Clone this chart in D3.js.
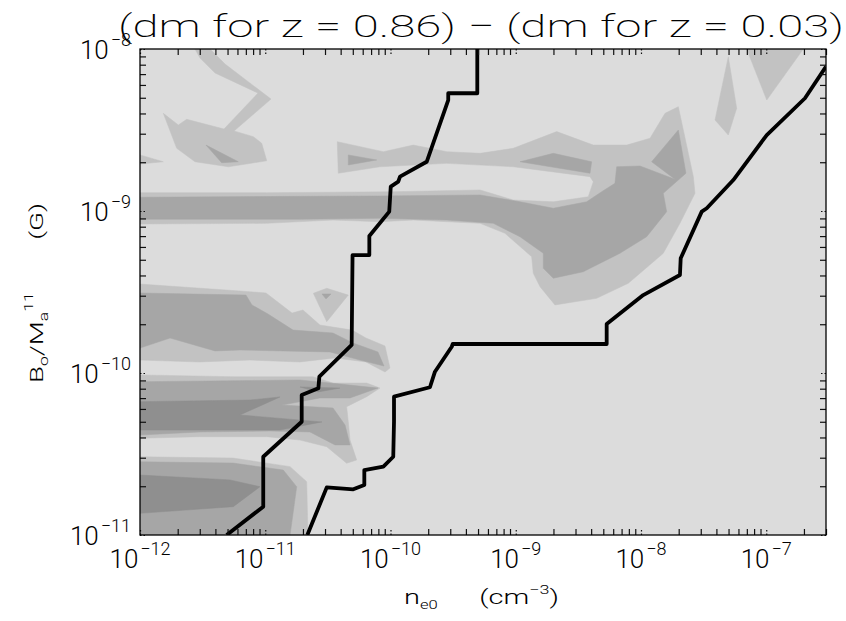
<!DOCTYPE html>
<html><head><meta charset="utf-8">
<script src="https://cdn.jsdelivr.net/npm/d3@7"></script>
<style>
body{margin:0;background:#fff;}
svg text{font-family:Roboto,'DejaVu Sans',sans-serif;font-weight:300;fill:#000;}
</style></head><body>
<svg id="c" width="846" height="621"></svg>
<script>
// ---------- data (log10 n_e0 , log10 B) ----------
const xDomain=[1e-12,3e-7];
const yDomain=[1e-11,1e-8];
const xTickExps=[-12,-11,-10,-9,-8,-7];
const yTickExps=[-11,-10,-9,-8];
const titleText="(dm for z = 0.86) \u2212 (dm for z = 0.03)";
const levelColors=["#dcdcdc","#c2c2c2","#a6a6a6","#8f8f8f"];

const blobTopLeft=[[-11.561,-8],[-11.441,-8],[-11.321,-8.093],[-10.954,-8.309],[-11.249,-8.506],[-11.095,-8.541],[-11.028,-8.582],[-10.988,-8.690],[-11.295,-8.727],[-11.561,-8.696],[-11.707,-8.613],[-11.814,-8.397],[-11.694,-8.469],[-11.627,-8.434],[-11.329,-8.494],[-11.058,-8.272],[-11.401,-8.148],[-11.521,-8.056]];
const triTopLeft=[[-11.473,-8.593],[-11.215,-8.696],[-11.348,-8.702]];
const wedgeLeftEdge=[[-12,-8.654],[-11.814,-8.696],[-12,-8.710]];
const bandNineOuter=[[-10.425,-8.572],[-10.057,-8.634],[-9.818,-8.593],[-9.549,-8.634],[-9.285,-8.644],[-9.020,-8.613],[-8.673,-8.510],[-8.381,-8.593],[-8.114,-8.593],[-7.928,-8.551],[-7.808,-8.397],[-7.702,-8.356],[-7.582,-8.788],[-7.569,-8.891],[-7.689,-9.076],[-7.822,-9.261],[-8.101,-9.446],[-8.354,-9.539],[-8.687,-9.580],[-8.806,-9.467],[-8.860,-9.385],[-8.873,-9.282],[-9.086,-9.138],[-9.285,-9.076],[-9.551,-9.066],[-9.818,-9.056],[-10.084,-9.066],[-10.459,-9.056],[-10.988,-9.076],[-12,-9.080],[-12,-8.887],[-10.988,-8.887],[-9.980,-8.881],[-9.285,-8.870],[-9.020,-8.932],[-8.700,-8.943],[-8.421,-8.912],[-8.381,-8.819],[-8.407,-8.788],[-9.020,-8.727],[-9.551,-8.706],[-10.084,-8.727],[-10.417,-8.767]];
const bandNineInner=[[-12,-8.915],[-10.084,-8.907],[-9.285,-8.901],[-8.966,-8.943],[-8.700,-8.983],[-8.434,-8.943],[-8.314,-8.881],[-8.208,-8.829],[-8.194,-8.727],[-8.008,-8.722],[-7.729,-8.804],[-7.915,-8.696],[-7.702,-8.500],[-7.641,-8.767],[-7.822,-8.891],[-7.795,-9.004],[-7.955,-9.159],[-8.168,-9.261],[-8.461,-9.375],[-8.700,-9.415],[-8.780,-9.354],[-8.780,-9.261],[-8.966,-9.159],[-9.179,-9.076],[-9.551,-9.056],[-10.084,-9.045],[-10.723,-9.051],[-12,-9.051]];
const stripUpper=[[-8.966,-8.696],[-8.700,-8.644],[-8.394,-8.696],[-8.407,-8.767]];
const wedgeTipUpper=[[-10.337,-8.654],[-10.110,-8.685],[-10.337,-8.716]];
const spikeTopRight=[[-7.303,-8.048],[-7.236,-8.366],[-7.303,-8.531],[-7.409,-8.438]];
const vTopRight=[[-7.156,-8],[-6.704,-8],[-6.996,-8.315]];
const bandUpperOuter=[[-12,-9.451],[-11.202,-9.494],[-10.994,-9.506],[-10.786,-9.630],[-10.699,-9.611],[-10.563,-9.704],[-10.307,-9.735],[-10.196,-9.784],[-10.044,-9.833],[-10.004,-9.969],[-10.044,-9.994],[-10.196,-9.932],[-10.443,-9.907],[-10.723,-9.932],[-11.122,-9.920],[-11.521,-9.932],[-12,-9.920]];
const bandUpperInner=[[-12,-9.506],[-11.154,-9.519],[-11.106,-9.580],[-10.978,-9.636],[-10.778,-9.735],[-10.459,-9.753],[-10.299,-9.815],[-10.100,-9.870],[-10.052,-9.957],[-10.244,-9.920],[-10.483,-9.870],[-10.858,-9.864],[-11.202,-9.858],[-11.401,-9.864],[-11.760,-9.784],[-12,-9.846]];
const diamond=[[-10.616,-9.508],[-10.509,-9.477],[-10.337,-9.519],[-10.509,-9.683]];
const diamondDot=[[-10.547,-9.512],[-10.475,-9.512],[-10.515,-9.543]];
const bandMiddleOuter=[[-12,-10.012],[-11.257,-10.023],[-10.619,-10.023],[-10.459,-10.062],[-10.190,-10.062],[-10.084,-10.093],[-10.190,-10.146],[-10.350,-10.208],[-10.337,-10.301],[-10.323,-10.414],[-10.270,-10.537],[-10.350,-10.557],[-10.509,-10.455],[-10.723,-10.414],[-10.988,-10.393],[-11.521,-10.393],[-12,-10.403]];
const bandMiddleInner=[[-12,-10.054],[-10.723,-10.043],[-10.403,-10.068],[-10.100,-10.093],[-10.323,-10.154],[-10.563,-10.154],[-10.866,-10.198],[-10.459,-10.216],[-10.363,-10.321],[-10.323,-10.444],[-10.443,-10.444],[-10.643,-10.364],[-10.962,-10.358],[-11.521,-10.364],[-12,-10.383]];
const bandMiddleCore=[[-12,-10.177],[-11.122,-10.167],[-10.882,-10.148],[-11.202,-10.259],[-10.547,-10.302],[-10.882,-10.352],[-12,-10.352]];
const streakMiddle=[[-10.723,-10.086],[-10.403,-10.093],[-10.579,-10.117]];
const bandLowerOuter=[[-12,-10.517],[-11.257,-10.525],[-10.802,-10.578],[-10.669,-10.671],[-10.659,-11],[-12,-11]];
const bandLowerInner=[[-12,-10.548],[-11.257,-10.556],[-10.856,-10.599],[-10.749,-10.702],[-10.802,-11],[-12,-11]];
const bandLowerCore=[[-12,-10.630],[-11.281,-10.660],[-11.042,-10.702],[-11.255,-10.825],[-12,-10.866]];

// contour level of each region (painted in this order)
const regions=[
  [1,blobTopLeft],[1,wedgeLeftEdge],[1,bandNineOuter],[1,spikeTopRight],[1,vTopRight],
  [1,bandUpperOuter],[1,diamond],[1,bandMiddleOuter],[1,bandLowerOuter],
  [2,triTopLeft],[2,bandNineInner],[2,stripUpper],[2,wedgeTipUpper],[2,bandUpperInner],
  [2,diamondDot],[2,bandMiddleInner],[2,bandLowerInner],
  [3,bandMiddleCore],[3,streakMiddle],[3,bandLowerCore]
];

const boundaryLeft=[[-11.308,-11],[-11.016,-10.825],[-11.016,-10.517],[-10.709,-10.301],[-10.709,-10.136],[-10.576,-10.094],[-10.568,-10.023],[-10.310,-9.827],[-10.303,-9.272],[-10.169,-9.272],[-10.169,-9.154],[-10.010,-9.004],[-9.998,-8.850],[-9.938,-8.819],[-9.924,-8.788],[-9.711,-8.696],[-9.539,-8.315],[-9.539,-8.273],[-9.307,-8.273],[-9.307,-8]];
const boundaryRight=[[-10.664,-11],[-10.509,-10.706],[-10.297,-10.718],[-10.209,-10.691],[-10.209,-10.599],[-10.057,-10.578],[-9.978,-10.517],[-9.972,-10.301],[-9.972,-10.146],[-9.685,-10.088],[-9.645,-9.992],[-9.511,-9.838],[-9.503,-9.821],[-8.274,-9.821],[-8.274,-9.698],[-7.982,-9.519],[-7.689,-9.395],[-7.683,-9.292],[-7.515,-9.004],[-7.475,-8.983],[-7.263,-8.809],[-6.996,-8.531],[-6.691,-8.304],[-6.523,-8.109]];

// ---------- drawing ----------
const plot={left:140,right:826,top:49,bottom:535};
const x=d3.scaleLog().domain(xDomain).range([plot.left,plot.right]);
const y=d3.scaleLog().domain(yDomain).range([plot.bottom,plot.top]);
const svg=d3.select("#c");
svg.append("rect").attr("width",846).attr("height",621).attr("fill","#fff");
svg.append("defs").append("clipPath").attr("id","clip").append("rect")
  .attr("x",plot.left).attr("y",plot.top).attr("width",plot.right-plot.left).attr("height",plot.bottom-plot.top);
const g=svg.append("g").attr("clip-path","url(#clip)");
g.append("rect").attr("x",plot.left).attr("y",plot.top).attr("width",plot.right-plot.left).attr("height",plot.bottom-plot.top).attr("fill",levelColors[0]);
const line=d3.line().x(d=>x(10**d[0])).y(d=>y(10**d[1]));
regions.forEach(([lvl,pts])=>{
  g.append("path").attr("d",line(pts)+"Z").attr("fill",levelColors[lvl]).attr("stroke",levelColors[lvl]).attr("stroke-width",0.5);
});
[boundaryLeft,boundaryRight].forEach(pts=>{
  g.append("path").attr("d",line(pts)).attr("fill","none").attr("stroke","#000").attr("stroke-width",3.8).attr("stroke-linejoin","round");
});

// ticks
const isMajor=v=>Math.abs(Math.log10(v)-Math.round(Math.log10(v)))<1e-6;
const xMinor=x.ticks().filter(v=>!isMajor(v));
const yMinor=y.ticks().filter(v=>!isMajor(v));
const xMajor=xTickExps.map(e=>10**e);
const yMajor=yTickExps.map(e=>10**e);
function styleAxis(sel,dashed){
  sel.select(".domain").remove();
  sel.selectAll(".tick line").attr("stroke","#111").attr("stroke-width",1.2);
  if(dashed) sel.selectAll(".tick line").attr("stroke-dasharray","1.5,2");
}
const axes=[
  [d3.axisBottom(x),`translate(0,${plot.bottom})`,xMinor,xMajor],
  [d3.axisTop(x),`translate(0,${plot.top})`,xMinor,xMajor],
  [d3.axisLeft(y),`translate(${plot.left},0)`,yMinor,yMajor],
  [d3.axisRight(y),`translate(${plot.right},0)`,yMinor,yMajor]
];
axes.forEach(([ax,tr,mn,mj])=>{
  svg.append("g").attr("transform",tr).call(ax.tickValues(mn).tickSize(-6).tickFormat("")).call(s=>styleAxis(s,false));
  svg.append("g").attr("transform",tr).call(ax.tickValues(mj).tickSize(-7).tickFormat("")).call(s=>styleAxis(s,true));
});
svg.append("rect").attr("x",plot.left).attr("y",plot.top).attr("width",plot.right-plot.left).attr("height",plot.bottom-plot.top)
  .attr("fill","none").attr("stroke","#000").attr("stroke-width",1.3);

// tick labels
xTickExps.forEach(e=>{
  const t=svg.append("text").attr("x",x(10**e)).attr("y",568).attr("text-anchor","middle").attr("font-size",26);
  t.append("tspan").text("10");
  t.append("tspan").attr("font-size",18).attr("dy",-13).attr("dx",2).text("\u2212"+Math.abs(e));
});
yTickExps.forEach(e=>{
  const t=svg.append("text").attr("x",131).attr("y",y(10**e)+10).attr("text-anchor","end").attr("font-size",26);
  t.append("tspan").text("10");
  t.append("tspan").attr("font-size",18).attr("dy",-13).attr("dx",2).text("\u2212"+Math.abs(e));
});

// title
svg.append("text").attr("x",118).attr("y",37).attr("font-size",32).style("font-weight",200)
  .attr("textLength",726).attr("lengthAdjust","spacingAndGlyphs").text(titleText);

// x title
const xt=svg.append("text").attr("x",404).attr("y",604).attr("font-size",21)
  .attr("textLength",155).attr("lengthAdjust","spacingAndGlyphs");
xt.append("tspan").text("n");
xt.append("tspan").attr("font-size",12).attr("dy",5).text("e0");
xt.append("tspan").attr("dy",-5).attr("dx",30).text("(cm");
xt.append("tspan").attr("font-size",13).attr("dy",-10).text("\u22123");
xt.append("tspan").attr("dy",10).text(")");

// y title
const yt=svg.append("text").attr("transform","translate(43,383) rotate(-90)").attr("font-size",19)
  .attr("textLength",180).attr("lengthAdjust","spacingAndGlyphs");
yt.append("tspan").text("B");
yt.append("tspan").attr("font-size",12).attr("dy",5).text("o");
yt.append("tspan").attr("dy",-5).text("/M");
yt.append("tspan").attr("font-size",12).attr("dy",5).text("a");
yt.append("tspan").attr("font-size",12).attr("dy",-15).text("11");
yt.append("tspan").attr("dy",10).attr("dx",36).text("(G)");
</script>
</body></html>
